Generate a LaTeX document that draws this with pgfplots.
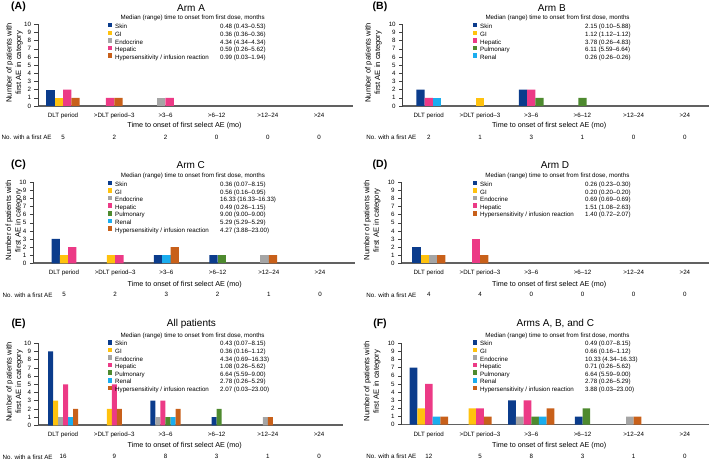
\documentclass[border=0pt]{standalone}
\usepackage{fontspec}
\setmainfont{Liberation Sans}
\usepackage{pgfplots}
\pgfplotsset{compat=1.18}

\definecolor{cSkin}{HTML}{0B3C8C}
\definecolor{cGI}{HTML}{FFC20E}
\definecolor{cEndo}{HTML}{A5A5A5}
\definecolor{cHep}{HTML}{EC3A86}
\definecolor{cPul}{HTML}{4E8A2F}
\definecolor{cRen}{HTML}{1AADEF}
\definecolor{cHyp}{HTML}{C8601A}

\newcommand{\fs}{\fontsize{6.2}{7}\selectfont}
\newcommand{\nm}[2]{\makebox[105pt][l]{#1}#2}
\newcommand{\sqimg}[1]{\fill[#1,draw=none] (0pt,-0.2pt) rectangle (4.3pt,4.3pt);}
\newcommand{\cnt}[2]{\node[font=\fs, yshift=-31.5pt] at (axis cs:#1,0) {#2};}
\newcommand{\nolab}[1]{\node[font=\fs, anchor=east, xshift=#1, yshift=-31.5pt] at (axis cs:0,0) {No. with a first AE};}
\newcommand{\hdr}[2]{\node[font=\fs, anchor=west] at (axis description cs:#1,#2) {Median (range) time to onset from first dose, months};}

\pgfplotsset{
  B/.style={ybar, bar shift=0pt, fill=#1, draw=none, legend image code/.code={\sqimg{##1}}},
  table/hx/.style={row sep=\\, x expr=\thisrow{g}+\thisrow{k}*\hw, y=y},
  panel/.style={
    scale only axis, anchor=south west,
    ymin=0, ymax=10, ytick={0,...,10},
    xtick={0,...,5},
    xticklabels={DLT period,>DLT period–3,>3–6,>6–12,>12–24,>24},
    axis x line*=bottom, axis y line*=left,
    x axis line style={-, line width=1.6pt, draw=black!62},
    y axis line style={-, line width=0.6pt, draw=black!75},
    tick align=outside, major tick length=3.5pt,
    xtick style={draw=none},
    ytick style={line width=0.5pt, draw=black!75},
    tick label style={font=\fs},
    /pgf/number format/assume math mode=true,
    clip=false,
    ylabel={Number of patients with\\first AE in category},
    ylabel style={align=center, font=\fontsize{7.6}{9.5}\selectfont, anchor=center},
    xlabel={Time to onset of first select AE (mo)},
    xlabel style={font=\fontsize{7.2}{8}\selectfont, anchor=center},
    title style={font=\fontsize{10}{12}\selectfont, anchor=center, yshift=-6pt},
    legend cell align=left,
    legend style={draw=none, fill=none, font=\fs, inner sep=0pt, outer sep=0pt, anchor=north west,
      nodes={text height=4.6pt, text depth=1.4pt, inner sep=0.3pt}, row sep=0pt,
      /tikz/every odd column/.append style={column sep=2.6pt}},
  },
}

\begin{document}
\begin{tikzpicture}
\useasboundingbox (0,0) rectangle (709pt,462pt);

\node[font=\bfseries\fontsize{10.5}{12}\selectfont] at (18.5pt,455pt) {(A)};
\node[font=\bfseries\fontsize{10.5}{12}\selectfont] at (380pt,455pt) {(B)};
\node[font=\bfseries\fontsize{10.5}{12}\selectfont] at (18.5pt,297pt) {(C)};
\node[font=\bfseries\fontsize{10.5}{12}\selectfont] at (380pt,297pt) {(D)};
\node[font=\bfseries\fontsize{10.5}{12}\selectfont] at (18.5pt,138pt) {(E)};
\node[font=\bfseries\fontsize{10.5}{12}\selectfont] at (380pt,138pt) {(F)};

% ---------------- Panel A ----------------
\def\hw{0.081}
\begin{axis}[panel, at={(38pt,356pt)}, width=315pt, height=81.7pt,
  xmin=-0.49, xmax=5.662, bar width=0.162,
  title={Arm A}, title style={at={(axis description cs:0.486,1.2)}},
  xlabel style={at={(axis description cs:0.465,-0.245)}},
  ylabel style={at={(axis description cs:-0.075,0.53)}},
  legend style={at={(axis description cs:0.222,1.016)}}]
\addplot[B=cSkin] table[hx]{g k y\\0 -3 2\\};
\addlegendentry{\nm{Skin}{0.48 (0.43–0.53)}}
\addplot[B=cGI] table[hx]{g k y\\0 -1 1\\};
\addlegendentry{\nm{GI}{0.36 (0.36–0.36)}}
\addplot[B=cEndo] table[hx]{g k y\\2 -1 1\\};
\addlegendentry{\nm{Endocrine}{4.34 (4.34–4.34)}}
\addplot[B=cHep] table[hx]{g k y\\0 1 2\\1 -1 1\\2 1 1\\};
\addlegendentry{\nm{Hepatic}{0.59 (0.26–5.62)}}
\addplot[B=cHyp] table[hx]{g k y\\0 3 1\\1 1 1\\};
\addlegendentry{\nm{Hypersensitivity / infusion reaction}{0.99 (0.03–1.94)}}
\hdr{0.251}{1.077}
\nolab{-8pt}
\cnt{0}{5}\cnt{1}{2}\cnt{2}{2}\cnt{3}{0}\cnt{4}{0}\cnt{5}{0}
\end{axis}

% ---------------- Panel B ----------------
\def\hw{0.081}
\begin{axis}[panel, at={(402.7pt,356pt)}, width=306.3pt, height=81.7pt,
  xmin=-0.51, xmax=5.472, bar width=0.162,
  title={Arm B}, title style={at={(axis description cs:0.487,1.2)}},
  xlabel style={at={(axis description cs:0.478,-0.245)}},
  ylabel style={at={(axis description cs:-0.096,0.53)}},
  legend style={at={(axis description cs:0.2295,1.016)}}]
\addplot[B=cSkin] table[hx]{g k y\\0 -2 2\\2 -2 2\\};
\addlegendentry{\nm{Skin}{2.15 (0.10–5.88)}}
\addplot[B=cGI] table[hx]{g k y\\1 0 1\\};
\addlegendentry{\nm{GI}{1.12 (1.12–1.12)}}
\addplot[B=cHep] table[hx]{g k y\\0 0 1\\2 0 2\\};
\addlegendentry{\nm{Hepatic}{3.78 (0.26–4.83)}}
\addplot[B=cPul] table[hx]{g k y\\2 2 1\\3 0 1\\};
\addlegendentry{\nm{Pulmonary}{6.11 (5.59–6.64)}}
\addplot[B=cRen] table[hx]{g k y\\0 2 1\\};
\addlegendentry{\nm{Renal}{0.26 (0.26–0.26)}}
\hdr{0.259}{1.077}
\nolab{-9pt}
\cnt{0}{2}\cnt{1}{1}\cnt{2}{3}\cnt{3}{1}\cnt{4}{0}\cnt{5}{0}
\end{axis}

% ---------------- Panel C ----------------
\def\hw{0.081}
\begin{axis}[panel, at={(33.3pt,198.7pt)}, width=322pt, height=81pt,
  xmin=-0.6, xmax=5.69, bar width=0.162,
  title={Arm C}, title style={at={(axis description cs:0.489,1.214)}},
  xlabel style={at={(axis description cs:0.47,-0.26)}},
  ylabel style={at={(axis description cs:-0.06,0.53)}},
  legend style={at={(axis description cs:0.232,1.02)}}]
\addplot[B=cSkin] table[hx]{g k y\\0 -2 3\\2 -2 1\\3 -1 1\\};
\addlegendentry{\nm{Skin}{0.36 (0.07–8.15)}}
\addplot[B=cGI] table[hx]{g k y\\0 0 1\\1 -1 1\\};
\addlegendentry{\nm{GI}{0.56 (0.16–0.95)}}
\addplot[B=cEndo] table[hx]{g k y\\4 -1 1\\};
\addlegendentry{\nm{Endocrine}{16.33 (16.33–16.33)}}
\addplot[B=cHep] table[hx]{g k y\\0 2 2\\1 1 1\\};
\addlegendentry{\nm{Hepatic}{0.49 (0.26–1.15)}}
\addplot[B=cPul] table[hx]{g k y\\3 1 1\\};
\addlegendentry{\nm{Pulmonary}{9.00 (9.00–9.00)}}
\addplot[B=cRen] table[hx]{g k y\\2 0 1\\};
\addlegendentry{\nm{Renal}{5.29 (5.29–5.29)}}
\addplot[B=cHyp] table[hx]{g k y\\2 2 2\\4 1 1\\};
\addlegendentry{\nm{Hypersensitivity / infusion reaction}{4.27 (3.88–23.00)}}
\hdr{0.261}{1.081}
\nolab{-8pt}
\cnt{0}{5}\cnt{1}{2}\cnt{2}{3}\cnt{3}{2}\cnt{4}{1}\cnt{5}{0}
\end{axis}

% ---------------- Panel D ----------------
\def\hw{0.081}
\begin{axis}[panel, at={(401.7pt,198.7pt)}, width=307.3pt, height=81pt,
  xmin=-0.53, xmax=5.47, bar width=0.162,
  title={Arm D}, title style={at={(axis description cs:0.499,1.214)}},
  xlabel style={at={(axis description cs:0.48,-0.26)}},
  ylabel style={at={(axis description cs:-0.096,0.53)}},
  legend style={at={(axis description cs:0.232,1.02)}}]
\addplot[B=cSkin] table[hx]{g k y\\0 -3 2\\};
\addlegendentry{\nm{Skin}{0.26 (0.23–0.30)}}
\addplot[B=cGI] table[hx]{g k y\\0 -1 1\\};
\addlegendentry{\nm{GI}{0.20 (0.20–0.20)}}
\addplot[B=cEndo] table[hx]{g k y\\0 1 1\\};
\addlegendentry{\nm{Endocrine}{0.69 (0.69–0.69)}}
\addplot[B=cHep] table[hx]{g k y\\1 -1 3\\};
\addlegendentry{\nm{Hepatic}{1.51 (1.08–2.63)}}
\addplot[B=cHyp] table[hx]{g k y\\0 3 1\\1 1 1\\};
\addlegendentry{\nm{Hypersensitivity / infusion reaction}{1.40 (0.72–2.07)}}
\hdr{0.261}{1.081}
\nolab{-9pt}
\cnt{0}{4}\cnt{1}{4}\cnt{2}{0}\cnt{3}{0}\cnt{4}{0}\cnt{5}{0}
\end{axis}

% ---------------- Panel E ----------------
\def\hw{0.049}
\begin{axis}[panel, at={(38pt,36.7pt)}, width=305pt, height=82pt,
  xmin=-0.49, xmax=5.467, bar width=0.098,
  title={All patients}, title style={at={(axis description cs:0.503,1.235)}},
  xlabel style={at={(axis description cs:0.481,-0.252)}},
  ylabel style={at={(axis description cs:-0.077,0.53)}},
  legend style={at={(axis description cs:0.2295,1.04)}}]
\addplot[B=cSkin] table[hx]{g k y\\0 -5 9\\2 -5 3\\3 -1 1\\};
\addlegendentry{\nm{Skin}{0.43 (0.07–8.15)}}
\addplot[B=cGI] table[hx]{g k y\\0 -3 3\\1 -2 2\\};
\addlegendentry{\nm{GI}{0.36 (0.16–1.12)}}
\addplot[B=cEndo] table[hx]{g k y\\0 -1 1\\2 -3 1\\4 -1 1\\};
\addlegendentry{\nm{Endocrine}{4.34 (0.69–16.33)}}
\addplot[B=cHep] table[hx]{g k y\\0 1 5\\1 0 5\\2 -1 3\\};
\addlegendentry{\nm{Hepatic}{1.08 (0.26–5.62)}}
\addplot[B=cPul] table[hx]{g k y\\2 1 1\\3 1 2\\};
\addlegendentry{\nm{Pulmonary}{6.64 (5.59–9.00)}}
\addplot[B=cRen] table[hx]{g k y\\0 3 1\\2 3 1\\};
\addlegendentry{\nm{Renal}{2.78 (0.26–5.29)}}
\addplot[B=cHyp] table[hx]{g k y\\0 5 2\\1 2 2\\2 5 2\\4 1 1\\};
\addlegendentry{\nm{Hypersensitivity / infusion reaction}{2.07 (0.03–23.00)}}
\hdr{0.259}{1.093}
\nolab{-7pt}
\cnt{0}{16}\cnt{1}{9}\cnt{2}{8}\cnt{3}{3}\cnt{4}{1}\cnt{5}{0}
\end{axis}

% ---------------- Panel F ----------------
\def\hw{0.075}
\begin{axis}[panel, at={(401.7pt,37.3pt)}, width=307.3pt, height=81.4pt,
  xmin=-0.53, xmax=5.47, bar width=0.15,
  title={Arms A, B, and C}, title style={at={(axis description cs:0.5,1.245)}},
  xlabel style={at={(axis description cs:0.48,-0.26)}},
  ylabel style={at={(axis description cs:-0.096,0.53)}},
  legend style={at={(axis description cs:0.232,1.04)}}]
\addplot[B=cSkin] table[hx]{g k y\\0 -4 7\\2 -5 3\\3 -1 1\\};
\addlegendentry{\nm{Skin}{0.49 (0.07–8.15)}}
\addplot[B=cGI] table[hx]{g k y\\0 -2 2\\1 -2 2\\};
\addlegendentry{\nm{GI}{0.66 (0.16–1.12)}}
\addplot[B=cEndo] table[hx]{g k y\\2 -3 1\\4 -1 1\\};
\addlegendentry{\nm{Endocrine}{10.33 (4.34–16.33)}}
\addplot[B=cHep] table[hx]{g k y\\0 0 5\\1 0 2\\2 -1 3\\};
\addlegendentry{\nm{Hepatic}{0.71 (0.26–5.62)}}
\addplot[B=cPul] table[hx]{g k y\\2 1 1\\3 1 2\\};
\addlegendentry{\nm{Pulmonary}{6.64 (5.59–9.00)}}
\addplot[B=cRen] table[hx]{g k y\\0 2 1\\2 3 1\\};
\addlegendentry{\nm{Renal}{2.78 (0.26–5.29)}}
\addplot[B=cHyp] table[hx]{g k y\\0 4 1\\1 2 1\\2 5 2\\4 1 1\\};
\addlegendentry{\nm{Hypersensitivity / infusion reaction}{3.88 (0.03–23.00)}}
\hdr{0.261}{1.093}
\nolab{-9pt}
\cnt{0}{12}\cnt{1}{5}\cnt{2}{8}\cnt{3}{3}\cnt{4}{1}\cnt{5}{0}
\end{axis}
\end{tikzpicture}
\end{document}
